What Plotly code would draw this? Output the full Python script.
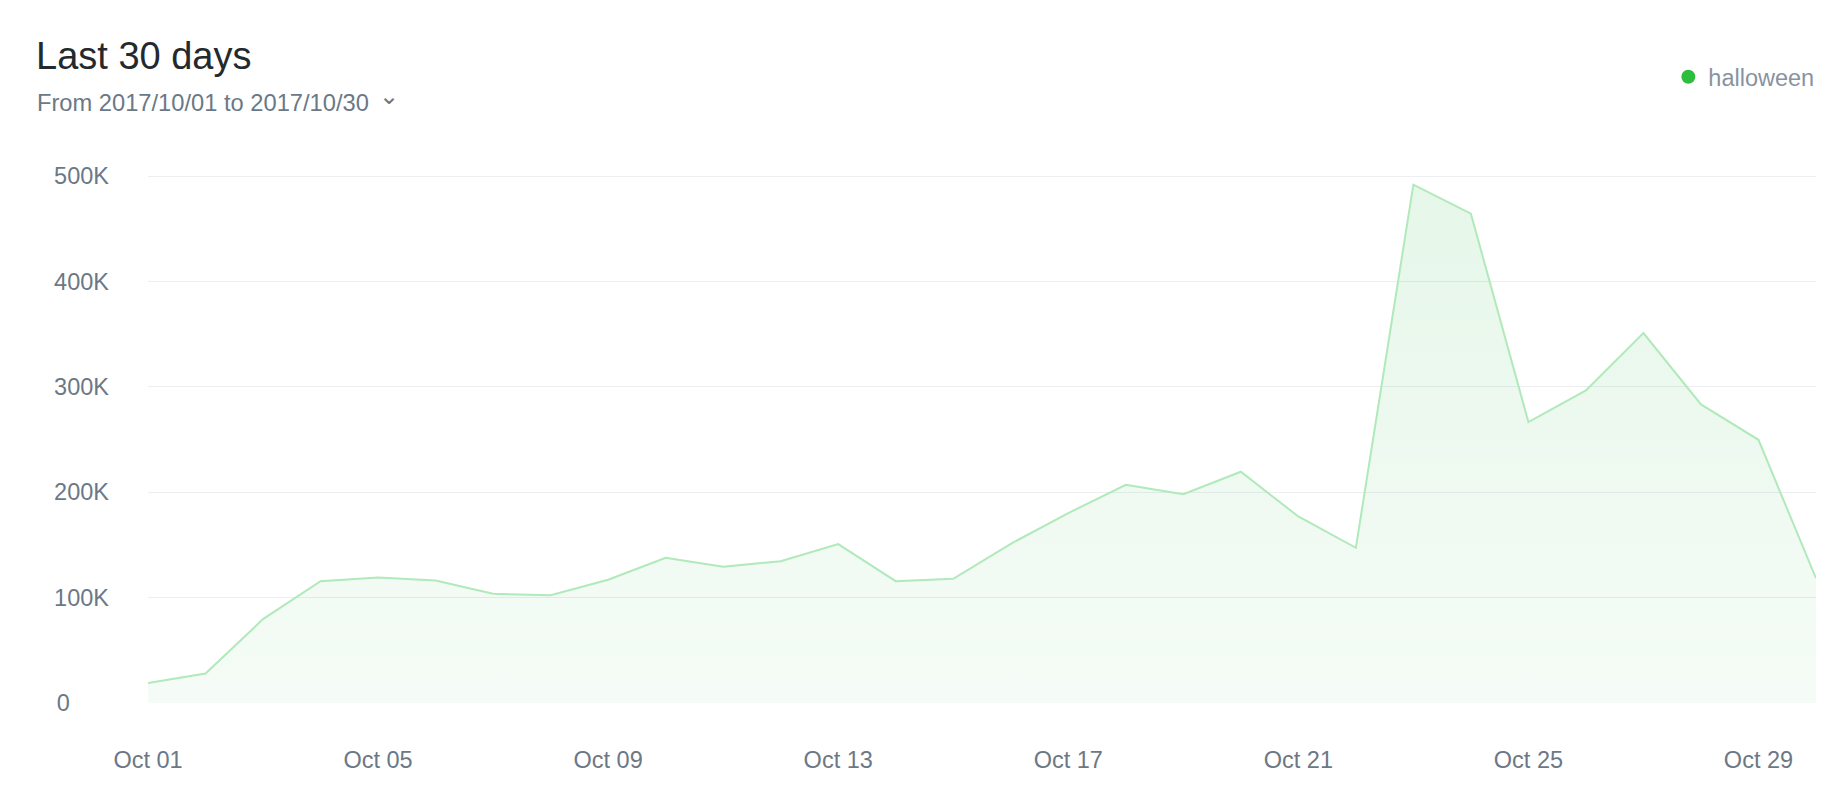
import plotly.graph_objects as go

# ---- data ----
dates = [f"2017-10-{d:02d}" for d in range(1, 31)]
values = [19000, 28000, 79600, 115600, 119100, 116300, 103600, 102300, 117000, 137800,
          129300, 134600, 150800, 115600, 117900, 151100, 180200, 207100, 198200, 219500,
          177000, 147300, 491900, 464400, 266600, 296700, 351100, 283400, 249800, 118400]
series_name = "halloween"
y_tickvals = [0, 100000, 200000, 300000, 400000, 500000]
y_ticktext = ["0", "100K", "200K", "300K", "400K", "500K"]
title_text = "Last 30 days"
subtitle_text = "From 2017/10/01 to 2017/10/30"

FONT = "Liberation Sans, Arial, Helvetica, sans-serif"
GREY = "#6b7886"

# page has an 8px body offset; all positions below are figure coordinates
L, R, T, B = 140, 40, 165, 115
W, H = 1848, 810
PW, PH = W - L - R, H - T - B
YMAX = 503000

# the reference left-aligns the y labels: pad shorter labels with no-break spaces
longest = max(len(t) for t in y_ticktext)
y_labels_aligned = [t + "\u00a0" * (6 if len(t) == 1 else 0) for t in y_ticktext]


def py(fig_y):
    """figure pixel y -> paper y"""
    return (H - B - fig_y) / PH


def px(fig_x):
    return (fig_x - L) / PW


fig = go.Figure()
fig.add_trace(go.Scatter(
    x=dates, y=values, mode="lines", showlegend=False,
    line=dict(color="#b0e9ba", width=2),
    fill="tozeroy",
    fillgradient=dict(type="vertical", start=0, stop=500000,
                      colorscale=[[0, "rgba(60,190,85,0.05)"], [1, "rgba(60,190,85,0.13)"]]),
    hoverinfo="x+y",
))
fig.add_trace(go.Scatter(
    x=[None], y=[None], mode="markers", name=series_name,
    marker=dict(color="#2dbe3e", size=14),
))

fig.update_layout(
    width=W, height=H,
    paper_bgcolor="white", plot_bgcolor="white",
    margin=dict(l=L, r=R, t=T, b=B),
    font=dict(family=FONT, color=GREY, size=23),
    title=dict(text=title_text, x=28 / W, xref="container", xanchor="left",
               y=1 - 48 / H, yref="container", yanchor="middle",
               font=dict(size=38, color="#24292e", family=FONT)),
    legend=dict(x=1.002, xanchor="right", y=py(69), yanchor="middle",
                bgcolor="rgba(0,0,0,0)", font=dict(size=23.5, color="#8893a0", family=FONT)),
    xaxis=dict(type="date", range=[dates[0], dates[-1]], tick0=dates[0],
               dtick=4 * 86400000, tickformat="%b %d", showgrid=False,
               showline=False, zeroline=False, ticks="",
               ticklabelstandoff=40,
               tickfont=dict(size=23.5, color=GREY)),
    yaxis=dict(range=[0, YMAX], tickvals=y_tickvals, ticktext=y_labels_aligned,
               showgrid=True, gridcolor="#eceef2", gridwidth=1.3,
               zeroline=False, showline=False, ticks="",
               ticklabelstandoff=38,
               tickfont=dict(size=23.5, color=GREY)),
    annotations=[
        dict(text=subtitle_text, xref="paper", yref="paper",
             x=px(27), y=py(95),
             xanchor="left", yanchor="middle", showarrow=False,
             font=dict(size=23.7, color=GREY, family=FONT)),
        dict(text="⌄", xref="paper", yref="paper",
             x=px(381), y=py(88),
             xanchor="center", yanchor="middle", showarrow=False,
             font=dict(size=24, color=GREY, family="DejaVu Sans")),
    ],
)

fig.write_html("out.html")
